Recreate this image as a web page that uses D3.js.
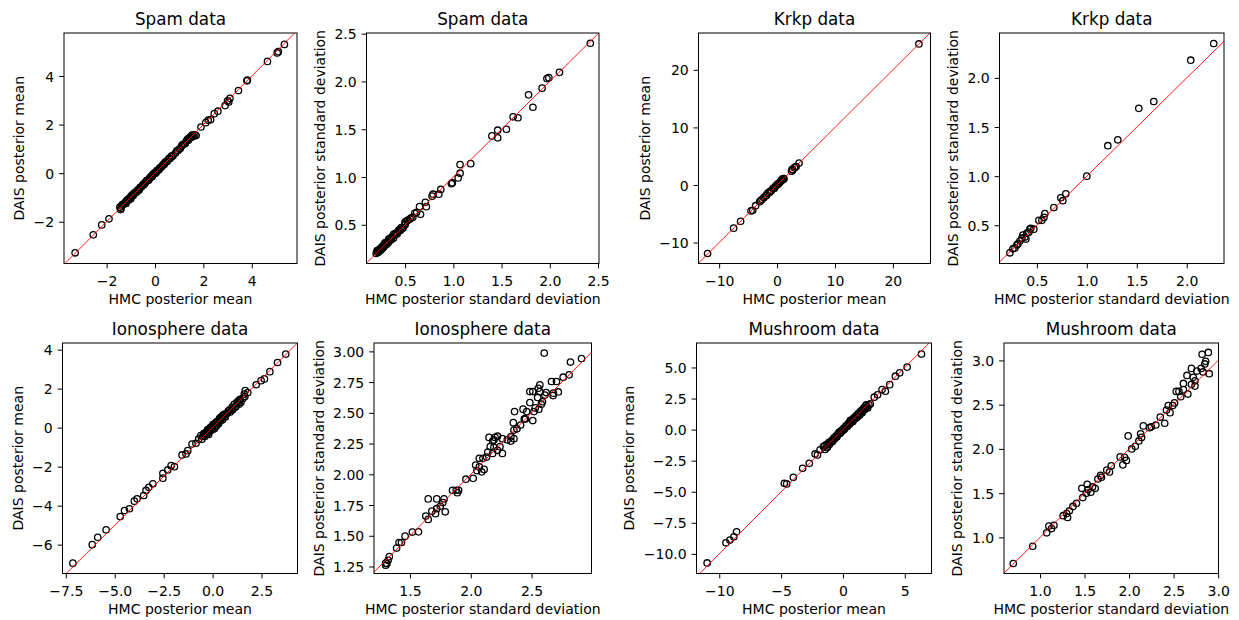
<!DOCTYPE html>
<html><head><meta charset="utf-8">
<script src="https://cdn.jsdelivr.net/npm/d3@7"></script>
<style>body{margin:0;background:#fff}</style>
</head><body>
<svg id="chart" width="1239" height="620"></svg>
<script>
// ---------- titles and labels ----------
const titles = ["Spam data","Spam data","Krkp data","Krkp data","Ionosphere data","Ionosphere data","Mushroom data","Mushroom data"];
const xLabels = ["HMC posterior mean","HMC posterior standard deviation","HMC posterior mean","HMC posterior standard deviation","HMC posterior mean","HMC posterior standard deviation","HMC posterior mean","HMC posterior standard deviation"];
const yLabels = ["DAIS posterior mean","DAIS posterior standard deviation","DAIS posterior mean","DAIS posterior standard deviation","DAIS posterior mean","DAIS posterior standard deviation","DAIS posterior mean","DAIS posterior standard deviation"];

// ---------- data: HMC (x) vs DAIS (y) ----------
const spamMeanHMC = [-3.30,-2.55,-2.20,-1.90,-1.45,-1.42,-1.38,-1.30,-1.25,-1.18,-1.10,-1.05,-0.98,-0.90,-0.85,-0.80,-0.72,-0.65,-0.60,-0.52,-0.45,-0.40,-0.33,-0.25,-0.20,-0.15,-0.10,-0.05,0.00,0.05,0.10,0.15,0.20,0.25,0.30,0.38,0.42,0.50,0.55,0.62,0.68,0.75,0.90,0.95,1.05,1.15,1.25,1.30,1.38,1.45,1.50,1.55,1.60,1.70,1.90,2.10,2.20,2.30,2.45,2.60,2.90,3.00,3.05,3.10,3.45,3.80,3.82,4.65,5.05,5.10,5.35,
  -1.40,-1.35,-1.20,-1.15,-1.00,-0.95,-0.88,-0.78,-0.70,-0.62,-0.55,-0.48,-0.42,-0.35,-0.28,-0.22,-0.12,-0.08,0.02,0.08,0.18,0.28,0.35,0.45,0.60,0.70,0.85,1.00,1.10,1.20,1.35,1.42,1.52,1.65];
const spamMeanDAIS = [-3.28,-2.54,-2.13,-1.88,-1.40,-1.50,-1.35,-1.28,-1.22,-1.15,-1.12,-1.02,-0.95,-0.92,-0.82,-0.78,-0.70,-0.68,-0.58,-0.50,-0.47,-0.38,-0.30,-0.27,-0.18,-0.12,-0.08,-0.02,0.02,0.03,0.12,0.13,0.22,0.24,0.31,0.36,0.44,0.48,0.57,0.60,0.70,0.73,0.92,0.93,1.02,1.18,1.22,1.33,1.35,1.48,1.47,1.58,1.52,1.55,1.90,2.08,2.18,2.20,2.45,2.55,2.78,2.98,2.93,3.08,3.40,3.80,3.83,4.60,4.95,5.00,5.30,
  -1.45,-1.30,-1.25,-1.10,-1.05,-0.90,-0.85,-0.80,-0.72,-0.60,-0.55,-0.45,-0.43,-0.32,-0.30,-0.20,-0.15,-0.05,0.00,0.10,0.17,0.27,0.37,0.46,0.62,0.68,0.83,0.98,1.12,1.20,1.40,1.44,1.55,1.58];

const spamSdHMC = [2.42,2.10,1.99,1.97,1.92,1.78,1.825,1.62,1.67,1.55,1.40,1.46,1.46,1.18,1.07,1.07,1.05,0.99,0.98,0.87,0.85,0.79,0.78,0.71,0.72,0.65,0.66,0.60,0.58,0.55,0.52,0.50,0.50,0.48,0.46,0.45,0.43,0.42,0.40,0.39,0.38,0.36,0.35,0.34,0.33,0.32,0.31,0.30,0.29,0.28,0.27,0.26,0.25,0.24,0.23,0.22,0.21,0.20,
  0.21,0.23,0.25,0.27,0.29,0.31,0.33,0.36,0.38,0.41,0.44,0.47,0.50,0.53,0.56,0.62];
const spamSdDAIS = [2.40,2.095,2.04,2.03,1.93,1.86,1.73,1.63,1.62,1.50,1.43,1.49,1.41,1.14,1.13,1.04,0.99,0.94,0.93,0.87,0.82,0.82,0.80,0.735,0.69,0.69,0.61,0.62,0.58,0.56,0.54,0.53,0.50,0.47,0.47,0.44,0.44,0.41,0.41,0.39,0.36,0.37,0.34,0.35,0.32,0.31,0.32,0.29,0.30,0.27,0.28,0.25,0.26,0.23,0.24,0.21,0.22,0.20,
  0.23,0.22,0.24,0.26,0.31,0.30,0.35,0.35,0.40,0.40,0.45,0.46,0.51,0.55,0.57,0.63];

const krkpMeanHMC = [24.5,-12.0,-7.5,-6.3,-4.5,-4.2,-3.7,-3.0,-2.6,-2.3,-2.0,-1.6,-1.3,-1.0,-0.7,-0.4,-0.2,0.0,0.2,0.4,0.6,0.8,0.9,1.1,1.2,2.5,2.7,3.0,3.3,3.8,
  -2.8,-1.8,-1.2,-0.5,0.1,0.3,0.7,1.0,2.6,3.1];
const krkpMeanDAIS = [24.5,-11.9,-7.5,-6.3,-4.5,-4.4,-3.6,-2.9,-2.5,-2.2,-1.9,-1.4,-1.3,-1.0,-0.6,-0.4,-0.1,0.0,0.2,0.4,0.6,0.8,1.0,1.1,1.1,2.4,2.6,3.0,3.2,3.8,
  -2.7,-1.8,-1.1,-0.6,0.15,0.3,0.75,0.95,2.7,3.1];

const krkpSdHMC = [2.27,2.04,1.67,1.52,1.31,1.21,1.00,0.79,0.74,0.76,0.67,0.58,0.57,0.55,0.52,0.47,0.43,0.42,0.40,0.38,0.36,0.35,0.33,0.31,0.30,0.28,0.26,0.23,0.44,0.39];
const krkpSdDAIS = [2.35,2.18,1.76,1.69,1.37,1.31,1.00,0.82,0.78,0.75,0.68,0.62,0.58,0.55,0.55,0.46,0.46,0.43,0.42,0.38,0.40,0.37,0.34,0.31,0.30,0.27,0.26,0.22,0.47,0.36];

const ionoMeanHMC = [-7.14,-6.15,-5.87,-5.44,-4.72,-4.50,-4.25,-4.00,-3.86,-3.52,-3.40,-3.26,-3.05,-2.54,-2.54,-2.29,-2.12,-1.95,-1.56,-1.36,-1.27,-1.05,-0.85,-0.71,-0.60,-0.50,-0.45,-0.40,-0.35,-0.30,-0.25,-0.20,-0.15,-0.10,-0.05,0.00,0.05,0.10,0.15,0.20,0.25,0.30,0.35,0.40,0.45,0.50,0.55,0.60,0.70,0.80,0.90,1.00,1.04,1.10,1.20,1.30,1.38,1.45,1.62,1.67,1.80,2.23,2.48,2.65,2.93,3.32,3.74,
  -0.55,-0.40,-0.30,-0.20,-0.12,0.00,0.02,0.12,0.20,0.30,0.38,0.50,0.62,0.65,0.75,0.85,1.00,1.15,1.25,1.35,1.40,1.55,1.65];
const ionoMeanDAIS = [-6.95,-6.00,-5.62,-5.24,-4.56,-4.25,-4.16,-3.77,-3.65,-3.48,-3.22,-3.06,-2.88,-2.59,-2.34,-2.17,-1.95,-2.00,-1.40,-1.35,-1.18,-0.84,-0.80,-0.58,-0.41,-0.45,-0.30,-0.45,-0.25,-0.35,-0.10,-0.25,-0.05,-0.15,0.05,0.05,0.15,-0.05,0.25,0.10,0.30,0.20,0.45,0.35,0.50,0.40,0.65,0.55,0.70,0.85,0.80,1.05,0.95,1.20,1.10,1.35,1.38,1.30,1.72,1.90,1.80,2.20,2.41,2.50,2.87,3.34,3.77,
  -0.60,-0.30,-0.20,-0.35,0.00,-0.10,0.15,0.05,0.30,0.25,0.50,0.60,0.70,0.55,0.75,0.90,0.90,1.05,1.30,1.20,1.45,1.50,1.60];

const ionoSdHMC = [2.604,2.911,2.82,2.809,2.76,2.705,2.664,2.568,2.555,2.486,2.51,2.568,2.62,2.68,2.72,2.677,2.61,2.55,2.486,2.59,2.53,2.56,2.58,2.52,2.46,2.51,2.43,2.44,2.45,2.36,2.41,2.38,2.35,2.355,2.33,2.33,2.355,2.30,2.26,2.22,2.19,2.20,2.15,2.18,2.24,2.26,2.22,2.19,2.16,2.14,2.18,2.13,2.10,2.07,2.11,2.04,2.07,2.05,2.09,2.02,1.96,1.90,1.88,1.85,1.89,1.78,1.79,1.72,1.65,1.77,1.75,1.72,1.71,1.68,1.65,1.63,1.57,1.52,1.46,1.43,1.41,1.39,1.33,1.32,1.30,1.30,1.31];
const ionoSdDAIS = [2.986,2.942,2.913,2.809,2.79,2.755,2.755,2.727,2.70,2.673,2.673,2.673,2.665,2.66,2.67,2.64,2.645,2.625,2.583,2.59,2.54,2.53,2.57,2.51,2.51,2.437,2.53,2.45,2.45,2.51,2.40,2.37,2.42,2.36,2.306,2.27,2.29,2.28,2.29,2.31,2.28,2.30,2.30,2.27,2.225,2.17,2.195,2.22,2.225,2.18,2.17,2.14,2.13,2.13,2.04,2.075,2.06,2.03,2.02,1.967,1.96,1.87,1.87,1.87,1.85,1.80,1.695,1.80,1.80,1.77,1.74,1.72,1.68,1.70,1.633,1.66,1.532,1.53,1.497,1.445,1.445,1.40,1.33,1.30,1.277,1.26,1.273];

const mushMeanHMC = [-10.98,-9.46,-9.14,-8.82,-8.60,-4.74,-4.55,-4.01,-3.26,-2.72,-2.25,-2.06,-1.85,-1.58,-1.45,-1.35,-1.25,-1.15,-1.05,-0.95,-0.85,-0.75,-0.65,-0.55,-0.45,-0.35,-0.25,-0.15,-0.05,0.05,0.15,0.25,0.35,0.45,0.55,0.65,0.75,0.85,0.95,1.05,1.15,1.25,1.35,1.45,1.55,1.65,1.75,1.85,2.00,2.21,2.53,2.80,3.16,3.43,3.78,4.24,4.59,5.19,6.35,0.6,0.8,1.0,1.2,-0.3,-0.8,1.6,1.9,
  -1.50,-1.30,-1.10,-0.90,-0.70,-0.50,-0.40,-0.20,0.00,0.10,0.20,0.40,0.50,0.70,0.90,1.10,1.30,1.50,1.70,1.80,2.10,1.95];
const mushMeanDAIS = [-10.73,-9.11,-8.89,-8.63,-8.23,-4.32,-4.37,-3.84,-3.11,-2.71,-1.96,-2.04,-1.63,-1.36,-1.60,-1.20,-1.40,-1.05,-1.00,-0.90,-0.95,-0.70,-0.72,-0.50,-0.48,-0.30,-0.32,-0.10,-0.12,0.08,0.10,0.30,0.25,0.50,0.45,0.70,0.65,0.90,0.85,1.10,1.00,1.30,1.15,1.50,1.35,1.70,1.60,1.95,1.74,2.07,2.61,2.80,3.22,3.09,3.62,4.30,4.57,5.03,6.08,0.75,0.65,0.90,1.20,-0.20,-0.85,1.50,2.00,
  -1.30,-1.45,-1.20,-1.00,-0.65,-0.60,-0.35,-0.25,0.05,0.00,0.25,0.35,0.55,0.75,0.95,1.05,1.25,1.45,1.75,1.70,2.00,1.85];

const mushSdHMC = [0.70,0.918,1.075,1.10,1.157,1.13,1.26,1.30,1.31,1.33,1.37,1.41,1.48,1.47,1.54,1.52,1.57,1.59,1.53,1.65,1.62,1.68,1.69,1.75,1.80,1.78,1.93,1.95,1.90,1.97,1.99,2.03,2.07,2.11,2.14,2.13,2.16,2.23,2.25,2.30,2.35,2.40,2.42,2.44,2.46,2.49,2.51,2.53,2.56,2.58,2.61,2.61,2.66,2.65,2.70,2.70,2.72,2.74,2.74,2.76,2.81,2.83,2.82,2.86,2.89,2.90,2.85];
const mushSdDAIS = [0.705,0.90,1.052,1.128,1.136,1.10,1.245,1.27,1.225,1.30,1.35,1.385,1.45,1.555,1.54,1.50,1.51,1.57,1.60,1.66,1.555,1.70,1.68,1.76,1.81,1.74,1.82,1.905,1.91,1.87,2.147,2.00,2.03,2.09,2.13,2.17,2.26,2.24,2.25,2.27,2.36,2.29,2.44,2.49,2.41,2.49,2.52,2.65,2.65,2.59,2.67,2.74,2.62,2.83,2.91,2.73,2.81,2.77,2.71,2.88,2.91,2.87,3.07,2.99,3.09,2.85,2.96];

// ---------- axis domains and tick values ----------
const xDomains = [[-3.76,5.87],[0.10,2.51],[-13.57,26.5],[0.126,2.373],[-7.67,4.34],[1.204,2.993],[-11.84,7.16],[0.596,3.004]];
const yDomains = [[-3.72,5.77],[0.095,2.507],[-13.64,26.4],[0.111,2.457],[-7.48,4.34],[1.193,3.068],[-11.58,6.97],[0.592,3.197]];
const xTicks = [[-2,0,2,4],[0.5,1,1.5,2,2.5],[-10,0,10,20],[0.5,1,1.5,2],[-7.5,-5,-2.5,0,2.5],[1.5,2,2.5],[-10,-5,0,5],[1,1.5,2,2.5,3]];
const yTicks = [[-2,0,2,4],[0.5,1,1.5,2,2.5],[-10,0,10,20],[0.5,1,1.5,2],[-6,-4,-2,0,2,4],[1.25,1.5,1.75,2,2.25,2.5,2.75,3],[-10,-7.5,-5,-2.5,0,2.5,5],[1,1.5,2,2.5,3]];
const xFormats = ["d",".1f","d",".1f",".1f",".1f","d",".1f"];
const yFormats = ["d",".1f","d",".1f","d",".2f",".1f",".1f"];

const xsList = [spamMeanHMC,spamSdHMC,krkpMeanHMC,krkpSdHMC,ionoMeanHMC,ionoSdHMC,mushMeanHMC,mushSdHMC];
const ysList = [spamMeanDAIS,spamSdDAIS,krkpMeanDAIS,krkpSdDAIS,ionoMeanDAIS,ionoSdDAIS,mushMeanDAIS,mushSdDAIS];

// ---------- layout (axes boxes: left, top, right, bottom) ----------
const boxes = [
  [64,33,297,263.5],[366.5,33,599,263.5],[698.5,33,930.5,263.5],[999.5,33,1224,263.5],
  [62.5,343,297.5,573.5],[374,343,591.5,573.5],[696.5,343,931.5,573.5],[1004,343,1218.5,573.5]
];

const FONT = "'DejaVu Sans', sans-serif";
const svg = d3.select("#chart");
svg.append("rect").attr("width",1239).attr("height",620).attr("fill","#fff");

for (let i = 0; i < 8; i++) {
  const [x0,y0,x1,y1] = boxes[i];
  const x = d3.scaleLinear().domain(xDomains[i]).range([x0,x1]);
  const y = d3.scaleLinear().domain(yDomains[i]).range([y1,y0]);
  const g = svg.append("g");
  const clipId = "clip"+i;
  g.append("clipPath").attr("id",clipId).append("rect")
    .attr("x",x0).attr("y",y0).attr("width",x1-x0).attr("height",y1-y0);

  const n = Math.min(xsList[i].length, ysList[i].length);
  const pts = d3.range(n).map(k => [xsList[i][k], ysList[i][k]]);
  const plot = g.append("g").attr("clip-path","url(#"+clipId+")");
  plot.selectAll("circle").data(pts).join("circle")
    .attr("cx",d=>x(d[0])).attr("cy",d=>y(d[1])).attr("r",3.2)
    .attr("fill","none").attr("stroke","#000").attr("stroke-width",1.3);

  const lo = Math.min(xDomains[i][0], yDomains[i][0]);
  const hi = Math.max(xDomains[i][1], yDomains[i][1]);
  plot.append("path").datum([[lo,lo],[hi,hi]])
    .attr("d", d3.line().x(d=>x(d[0])).y(d=>y(d[1])))
    .attr("stroke","#ff0000").attr("stroke-width",0.9).attr("fill","none");

  // x axis
  const xa = g.append("g").attr("transform",`translate(0,${y1})`)
    .call(d3.axisBottom(x).tickValues(xTicks[i]).tickFormat(d3.format(xFormats[i]))
      .tickSizeInner(4.9).tickSizeOuter(0).tickPadding(7.6));
  xa.select(".domain").remove();
  xa.selectAll("line").attr("stroke","#000").attr("stroke-width",1);
  xa.selectAll("text").attr("font-family",FONT).attr("font-size",14).attr("fill","#000");
  xa.attr("font-family",FONT).attr("font-size",14);

  // y axis
  const ya = g.append("g").attr("transform",`translate(${x0},0)`)
    .call(d3.axisLeft(y).tickValues(yTicks[i]).tickFormat(d3.format(yFormats[i]))
      .tickSizeInner(4.9).tickSizeOuter(0).tickPadding(4.9));
  ya.select(".domain").remove();
  ya.selectAll("line").attr("stroke","#000").attr("stroke-width",1);
  ya.selectAll("text").attr("font-family",FONT).attr("font-size",14).attr("fill","#000").attr("dy","0.36em");
  ya.attr("font-family",FONT).attr("font-size",14);

  // frame
  g.append("rect").attr("x",x0).attr("y",y0).attr("width",x1-x0).attr("height",y1-y0)
    .attr("fill","none").attr("stroke","#000").attr("stroke-width",1);

  // title
  g.append("text").attr("x",(x0+x1)/2).attr("y",y0-7.6).attr("text-anchor","middle")
    .attr("font-family",FONT).attr("font-size",16.8).attr("fill","#000").text(titles[i]);

  // x label
  g.append("text").attr("x",(x0+x1)/2).attr("y",y1+40.3).attr("text-anchor","middle")
    .attr("font-family",FONT).attr("font-size",14).attr("fill","#000").text(xLabels[i]);

  // y label
  let minX = 0;
  ya.selectAll("text").each(function(){ const b=this.getBBox(); minX=Math.min(minX,b.x); });
  const lx = x0 + minX - 9.5;
  g.append("text").attr("transform",`translate(${lx},${(y0+y1)/2}) rotate(-90)`)
    .attr("text-anchor","middle").attr("font-family",FONT).attr("font-size",14).attr("fill","#000")
    .text(yLabels[i]);
}
</script>
</body></html>
